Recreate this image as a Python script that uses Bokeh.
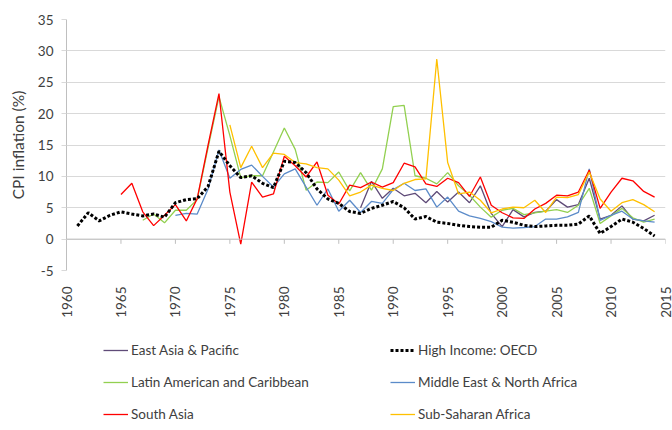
import math
import numpy as np
from bokeh.plotting import figure
from bokeh.layouts import column
from bokeh.models import (Legend, LegendItem, FixedTicker, Span, ColumnDataSource)
from bokeh.embed import file_html
from bokeh.resources import INLINE

years = list(range(1961, 2015))
N = None

east_asia = [N]*26 + [5.0, 9.2, 6.5, 8.1, 6.9, 7.3, 5.8, 7.6, 5.9, 7.5, 5.8, 8.5, 4.1, 2.0,
                     4.7, 3.55, 4.25, 4.45, 6.3, 5.1, 5.5, 9.7, 3.2, 3.8, 5.3, 3.2, 2.9, 3.8]
oecd = [2.1, 4.2, 2.9, 3.8, 4.35, 4.0, 3.7, 4.0, 3.5, 5.8, 6.3, 6.45, 8.4, 14.0, 11.7, 9.8,
        10.1, 8.9, 8.2, 12.4, 12.2, 10.6, 8.0, 6.4, 5.7, 4.4, 4.1, 4.9, 5.4, 6.0, 5.0, 3.2,
        3.6, 2.7, 2.5, 2.2, 2.0, 1.9, 1.9, 3.0, 2.7, 2.2, 2.0, 2.1, 2.2, 2.2, 2.4, 3.7, 0.9,
        2.0, 3.2, 2.7, 1.7, 0.5]
latin = [N]*6 + [3.0, 4.0, 2.6, 4.6, 4.6, 6.3, 14.6, 22.7, 16.5, 9.8, 10.1, 10.1, 13.9, 17.7,
                 14.3, 7.8, 9.1, 9.0, 10.7, 7.7, 10.6, 7.8, 11.2, 21.1, 21.3, 10.1, 9.7, 8.8,
                 10.6, 8.5, 7.0, 5.1, 3.5, 4.6, 4.9, 3.9, 4.2, 4.45, 4.7, 4.25, 5.4, 8.1, 2.5,
                 3.7, 4.9, 3.4, 2.7, 3.2]
mena = [N]*9 + [3.8, 4.1, 4.0, 8.0, 14.2, 9.7, 11.1, 11.8, 10.0, 8.3, 10.4, 11.2, 8.3, 5.4,
                8.0, 4.45, 6.2, 4.25, 6.0, 5.7, 7.9, 8.9, 7.75, 8.0, 5.1, 6.7, 4.45, 3.7, 3.3,
                2.8, 1.9, 1.75, 1.85, 2.0, 3.2, 3.2, 3.55, 4.25, 11.2, 3.0, 3.8, 4.45, 3.2,
                2.9, 2.7]
south_asia = [N]*4 + [7.1, 8.9, 4.35, 2.15, 3.8, 5.5, 2.9, 6.45, 15.0, 23.2, 7.5, -0.8, 9.1,
                      6.7, 7.2, 13.2, 11.7, 9.9, 12.3, 7.0, 5.6, 8.6, 8.2, 9.1, 8.3, 9.0, 12.1,
                      11.5, 8.8, 8.4, 9.7, 9.0, 6.8, 9.9, 5.4, 4.2, 3.4, 3.3, 4.8, 5.7, 7.0,
                      6.9, 7.5, 11.0, 4.9, 7.5, 9.7, 9.3, 7.6, 6.7]
ssa = [N]*14 + [18.2, 11.4, 14.8, 11.4, 13.7, 13.5, 12.2, 12.0, 11.4, 11.2, 9.4, 6.9, 7.5,
                8.6, 8.1, 7.75, 8.9, 9.5, 9.6, 28.7, 12.2, 7.2, 7.5, 6.2, 4.2, 4.8, 5.1, 5.0,
                6.2, 4.25, 6.7, 6.6, 7.1, 10.7, 6.4, 4.45, 5.8, 6.3, 5.5, 4.35]

series_names = ["East Asia & Pacific", "High Income: OECD", "Latin American and Caribbean",
                "Middle East & North Africa", "South Asia", "Sub-Saharan Africa"]

x_ticks = list(range(1960, 2016, 5))
y_ticks = list(range(-5, 36, 5))

FONT = "Lato"
TXT = "#404040"
STYLES = {
    "ea": dict(line_color="#5f4b78", line_width=1.3),
    "la": dict(line_color="#92D050", line_width=1.3),
    "me": dict(line_color="#5b8bc9", line_width=1.3),
    "sa": dict(line_color="#FF0000", line_width=1.3),
    "ss": dict(line_color="#FFC000", line_width=1.3),
    "oe": dict(line_color="black", line_width=3, line_dash="3 2"),
}

p = figure(width=672, height=320, x_range=(1960, 2015), y_range=(-5, 35),
           output_backend="svg", toolbar_location=None,
           min_border_left=66, min_border_top=19, min_border_right=7, min_border_bottom=47)
p.outline_line_color = None

def arr(v):
    return np.array([np.nan if a is None else a for a in v], dtype=float)

src = ColumnDataSource(dict(year=years, ea=arr(east_asia), oe=arr(oecd), la=arr(latin),
                            me=arr(mena), sa=arr(south_asia), ss=arr(ssa)))

p.xgrid.grid_line_color = None
p.ygrid.grid_line_color = "#d9d9d9"
p.ygrid.ticker = FixedTicker(ticks=y_ticks)

p.yaxis.ticker = FixedTicker(ticks=y_ticks)
p.yaxis.major_label_overrides = {t: str(t) for t in y_ticks}
p.yaxis.axis_line_color = "#bfbfbf"
p.yaxis.major_tick_line_color = "#d9d9d9"
p.yaxis.major_tick_out = 5
p.yaxis.major_tick_in = 0
p.yaxis.minor_tick_line_color = None
p.yaxis.major_label_standoff = 8
p.yaxis.major_label_text_font = FONT
p.yaxis.major_label_text_font_size = "13.5px"
p.yaxis.major_label_text_color = TXT
p.yaxis.axis_label = "CPI inflation (%)"
p.yaxis.axis_label_text_font = FONT
p.yaxis.axis_label_text_font_size = "15.5px"
p.yaxis.axis_label_text_font_style = "normal"
p.yaxis.axis_label_text_color = TXT
p.yaxis.axis_label_standoff = 8

p.xaxis.ticker = FixedTicker(ticks=x_ticks)
p.xaxis.major_label_overrides = {t: str(t) for t in x_ticks}
p.xaxis.axis_line_color = None
p.xaxis.major_tick_line_color = None
p.xaxis.minor_tick_line_color = None
p.xaxis.major_label_orientation = math.pi / 2
p.xaxis.major_label_standoff = 10
p.xaxis.major_label_text_font = FONT
p.xaxis.major_label_text_font_size = "13.5px"
p.xaxis.major_label_text_color = TXT

# horizontal axis line at zero with downward tick marks
p.add_layout(Span(location=0, dimension="width", line_color="#bfbfbf", line_width=1))
p.segment(x0=x_ticks, y0=[0]*len(x_ticks), x1=x_ticks, y1=[-0.75]*len(x_ticks),
          line_color="#bfbfbf", line_width=1)

for key in ["ea", "la", "me", "sa", "ss", "oe"]:
    p.line("year", key, source=src, **STYLES[key])

# legend area below the chart (its series lie outside its own view range)
q = figure(width=672, height=110, x_range=(0, 1), y_range=(0, 1),
           output_backend="svg", toolbar_location=None,
           x_axis_location=None, y_axis_location=None,
           min_border_left=0, min_border_right=0, min_border_top=0, min_border_bottom=0)
q.outline_line_color = None
q.xgrid.grid_line_color = None
q.ygrid.grid_line_color = None

keys = ["ea", "oe", "la", "me", "sa", "ss"]
rends = {k: q.line("year", k, source=src, **STYLES[k]) for k in keys}

def mk_legend(pairs, loc):
    return Legend(items=[LegendItem(label=lab, renderers=[rends[k]]) for lab, k in pairs],
                  location=loc, orientation="vertical",
                  border_line_color=None, background_fill_alpha=0,
                  padding=0, margin=0, spacing=12, glyph_width=25, glyph_height=20,
                  label_height=20, label_standoff=3,
                  label_text_font=FONT, label_text_font_size="13.5px",
                  label_text_color=TXT)

names = dict(zip(keys, series_names))
q.add_layout(mk_legend([(names[k], k) for k in ["ea", "la", "sa"]], (37, 6)), "center")
q.add_layout(mk_legend([(names[k], k) for k in ["oe", "me", "ss"]], (324, 6)), "center")

open("out.html", "w").write(file_html(column(p, q), INLINE))
